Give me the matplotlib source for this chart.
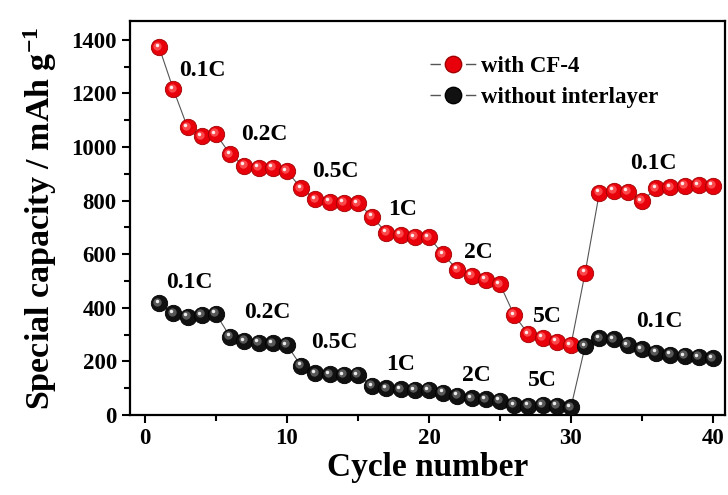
import numpy as np
import matplotlib
matplotlib.use('Agg')
import matplotlib.pyplot as plt
from matplotlib.ticker import MultipleLocator
from matplotlib.transforms import offset_copy
from matplotlib.lines import Line2D

plt.rcParams['font.family'] = ['Liberation Serif', 'DejaVu Serif']
plt.rcParams['font.weight'] = 'bold'
plt.rcParams['mathtext.fontset'] = 'custom'
plt.rcParams['mathtext.rm'] = 'Liberation Serif:bold'
plt.rcParams['mathtext.it'] = 'Liberation Serif:bold'
plt.rcParams['mathtext.bf'] = 'Liberation Serif:bold'

cycles = np.arange(1, 41)
cf4 = [1372, 1215, 1073, 1040, 1048, 973, 930, 923, 922, 910,
       846, 805, 796, 792, 790, 740, 680, 672, 664, 663,
       600, 541, 520, 504, 488, 373, 302, 288, 273, 261,
       531, 829, 837, 833, 798, 846, 850, 856, 858, 856]
no_inter = [417, 379, 367, 373, 377, 292, 276, 270, 268, 261,
            183, 156, 152, 149, 149, 108, 99, 96, 93, 93,
            83, 71, 62, 58, 53, 37, 34, 37, 34, 29,
            257, 286, 282, 261, 245, 233, 224, 220, 216, 212]

rate_red = ['0.1C', '0.2C', '0.5C', '1C', '2C', '5C', '0.1C']
rate_red_x = [2.4, 6.8, 11.8, 17.1, 22.5, 27.3, 34.2]
rate_red_y = [1287, 1045, 907, 765, 608, 369, 937]
rate_blk = ['0.1C', '0.2C', '0.5C', '1C', '2C', '5C', '0.1C']
rate_blk_x = [1.5, 7.0, 11.7, 17.0, 22.3, 27.0, 34.6]
rate_blk_y = [496, 384, 272, 190, 146, 127, 347]

fig = plt.figure(figsize=(7.28, 4.95), dpi=100)
ax = fig.add_axes([0.1786, 0.1616, 0.8173, 0.796])

def balls(y, base, edge, mid):
    # base sphere + two highlight layers to fake the shading
    ax.plot(cycles, y, '-', color='#555555', lw=0.8, zorder=2)
    ax.plot(cycles, y, 'o', ms=11.8, mfc=base, mec=edge, mew=0.6, zorder=3)
    t1 = offset_copy(ax.transData, fig=fig, x=-1.2, y=1.2, units='points')
    ax.plot(cycles, y, 'o', ms=6, mfc=mid, mec='none', alpha=0.8, zorder=4, transform=t1)
    t2 = offset_copy(ax.transData, fig=fig, x=-1.8, y=1.8, units='points')
    ax.plot(cycles, y, 'o', ms=2.5, mfc='white', mec='none', alpha=0.9, zorder=5, transform=t2)

balls(cf4, '#e8000b', '#a00000', '#ff5a5a')
balls(no_inter, '#111111', '#000000', '#6a6a6a')

for s, x, y in zip(rate_red, rate_red_x, rate_red_y):
    ax.text(x, y, s, fontsize=17, fontweight='bold', va='center', ha='left')
for s, x, y in zip(rate_blk, rate_blk_x, rate_blk_y):
    ax.text(x, y, s, fontsize=17, fontweight='bold', va='center', ha='left')

lh1 = Line2D([], [], color='#555555', lw=1, ls=(0, (7.5, 18)), marker='o', ms=11.8,
             mfc='#e8000b', mec='#a00000')
lh2 = Line2D([], [], color='#555555', lw=1, ls=(0, (7.5, 18)), marker='o', ms=11.8,
             mfc='#111111', mec='#000000')
ax.legend([lh1, lh2], ['with CF-4', 'without interlayer'], loc='upper left',
          bbox_to_anchor=(0.505, 0.91), frameon=False, fontsize=16.5,
          handlelength=2.0, handletextpad=0.2, borderaxespad=0, borderpad=0,
          labelspacing=0.4)

ax.set_xlim(-1.05, 40.85)
ax.set_ylim(0, 1470)
ax.xaxis.set_major_locator(MultipleLocator(10))
ax.xaxis.set_minor_locator(MultipleLocator(5))
ax.yaxis.set_major_locator(MultipleLocator(200))
ax.yaxis.set_minor_locator(MultipleLocator(100))
ax.tick_params(which='both', direction='out', width=1.5, labelsize=16.5, top=False, right=False)
ax.tick_params(which='major', length=6)
ax.tick_params(which='minor', length=4)
for sp in ax.spines.values():
    sp.set_linewidth(1.6)

ax.set_xlabel('Cycle number', fontsize=24, fontweight='bold', labelpad=2)
ax.set_ylabel('Special capacity / mAh g$^{-1}$', fontsize=24.5, fontweight='bold', labelpad=9)

fig.savefig('out.png', dpi=100)
